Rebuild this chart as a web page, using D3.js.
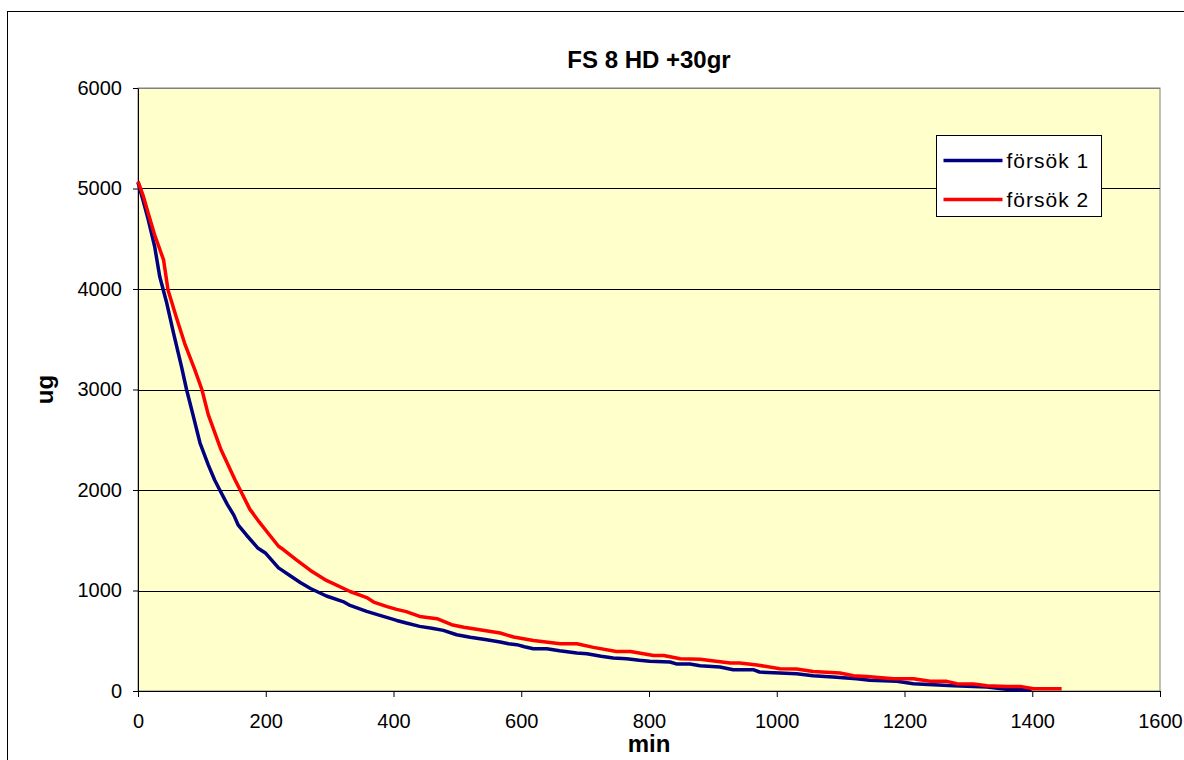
<!DOCTYPE html>
<html>
<head>
<meta charset="utf-8">
<script src="https://cdn.jsdelivr.net/npm/d3@7"></script>
<style>
  body { margin: 0; background: #fff; }
  svg { display: block; font-family: Arial, "Liberation Sans", sans-serif; }
</style>
</head>
<body>
<svg id="chart" width="1184" height="760"></svg>
<script>
// försök 1 (blue)
const minutes1 = [0, 8, 16, 26, 34, 45, 56, 68, 76, 86, 97, 110, 120, 128, 140, 150, 157, 170, 188, 200,
  220, 240, 254, 270, 295, 321, 332, 358, 380, 405, 420, 441, 460, 478, 499, 520, 546, 567, 580, 593,
  605, 619, 640, 660, 687, 703, 725, 744, 765, 785, 801, 833, 844, 864, 880, 911, 932, 963, 973, 1005,
  1031, 1057, 1088, 1125, 1146, 1188, 1214, 1245, 1277, 1329, 1366, 1399];
const values1 = [5060, 4880, 4690, 4425, 4125, 3860, 3550, 3230, 3000, 2750, 2470, 2250, 2100, 2000, 1855, 1750, 1650, 1550, 1420, 1370,
  1225, 1140, 1080, 1020, 945, 890, 851, 792, 750, 702, 676, 643, 625, 603, 560, 535, 510, 488, 470, 461,
  440, 421, 421, 400, 378, 371, 345, 328, 321, 305, 295, 288, 268, 268, 252, 239, 212, 212, 189, 179,
  172, 152, 139, 122, 106, 96, 73, 63, 53, 40, 13, 13];

// försök 2 (red)
const minutes2 = [0, 8, 16, 26, 40, 47, 60, 73, 89, 100, 110, 130, 152, 160, 175, 190, 205, 220, 228, 248,
  270, 295, 332, 358, 369, 390, 405, 420, 441, 468, 491, 510, 535, 567, 588, 619, 661, 687, 713, 749,
  771, 807, 823, 849, 880, 927, 942, 969, 1005, 1031, 1057, 1099, 1120, 1141, 1183, 1214, 1240, 1266,
  1282, 1308, 1329, 1360, 1381, 1402, 1446];
const values2 = [5070, 4930, 4755, 4540, 4290, 3990, 3720, 3460, 3195, 3000, 2750, 2400, 2100, 2000, 1810, 1680, 1560, 1440, 1405, 1305,
  1200, 1100, 990, 930, 885, 840, 812, 790, 742, 720, 660, 635, 610, 577, 537, 503, 470, 470, 434, 394,
  394, 354, 354, 321, 316, 279, 279, 259, 222, 219, 195, 179, 152, 145, 122, 122, 96, 96,
  73, 70, 53, 46, 46, 23, 23];

const seriesNames = ["försök 1", "försök 2"];
const seriesColors = ["#000080", "#ff0000"];
const xTicks = [0, 200, 400, 600, 800, 1000, 1200, 1400, 1600];
const yTicks = [0, 1000, 2000, 3000, 4000, 5000, 6000];

const svg = d3.select("#chart");
const margin = { top: 88, left: 138, right: 24, bottom: 69 };
const width = 1160 - margin.left;
const height = 691 - margin.top;

// chart area border (runs off the page on right/bottom)
svg.append("rect")
  .attr("x", 7.5).attr("y", 11.5)
  .attr("width", 1200).attr("height", 800)
  .attr("fill", "#fff").attr("stroke", "#000");

svg.append("text")
  .attr("x", margin.left + width / 2).attr("y", 68)
  .attr("text-anchor", "middle")
  .attr("font-size", 24).attr("font-weight", "bold")
  .text("FS 8 HD +30gr");

const x = d3.scaleLinear().domain([0, 1600]).range([0, width]);
const y = d3.scaleLinear().domain([0, 6000]).range([height, 0]);

const g = svg.append("g").attr("transform", `translate(${margin.left},${margin.top})`);

g.append("rect")
  .attr("width", width).attr("height", height)
  .attr("fill", "#ffffcc").attr("stroke", "#808080");

// gridlines
g.append("g")
  .selectAll("line")
  .data(yTicks.filter(d => d > 0))
  .join("line")
  .attr("x1", 0).attr("x2", width)
  .attr("y1", d => Math.round(y(d)) + 0.5).attr("y2", d => Math.round(y(d)) + 0.5)
  .attr("stroke", d => d === 6000 ? "#808080" : "#000")
  .attr("stroke-width", 1);

const fmt = d3.format("d");

const yAxis = g.append("g")
  .call(d3.axisLeft(y).tickValues(yTicks).tickFormat(fmt).tickSize(5).tickPadding(11).tickSizeOuter(0));
yAxis.select(".domain").attr("stroke", "#000");
yAxis.selectAll("text").attr("font-size", 20).attr("fill", "#000").attr("font-family", null);

const xAxis = g.append("g")
  .attr("transform", `translate(0,${height})`)
  .call(d3.axisBottom(x).tickValues(xTicks).tickFormat(fmt).tickSize(6).tickPadding(17).tickSizeOuter(0));
xAxis.select(".domain").attr("stroke", "#000");
xAxis.selectAll("text").attr("font-size", 20).attr("fill", "#000").attr("font-family", null);

g.append("text")
  .attr("transform", `translate(${45 - margin.left},${height / 2}) rotate(-90)`)
  .attr("text-anchor", "middle")
  .attr("dy", "0.35em")
  .attr("font-size", 24).attr("font-weight", "bold")
  .text("ug");

g.append("text")
  .attr("x", width / 2).attr("y", height + 61)
  .attr("text-anchor", "middle")
  .attr("font-size", 24).attr("font-weight", "bold")
  .text("min");

const line = d3.line().x(d => x(d[0])).y(d => y(d[1]));
const series = [d3.zip(minutes1, values1), d3.zip(minutes2, values2)];

g.selectAll(".series")
  .data(series)
  .join("path")
  .attr("class", "series")
  .attr("d", line)
  .attr("fill", "none")
  .attr("stroke", (d, i) => seriesColors[i])
  .attr("stroke-width", 3.5)
  .attr("stroke-linejoin", "round");

// legend
const legend = svg.append("g").attr("transform", "translate(936.5,135.5)");
legend.append("rect")
  .attr("width", 165).attr("height", 81)
  .attr("fill", "#fff").attr("stroke", "#000");
seriesNames.forEach((name, i) => {
  const ly = 25 + i * 39;
  legend.append("line")
    .attr("x1", 7).attr("x2", 66)
    .attr("y1", ly).attr("y2", ly)
    .attr("stroke", seriesColors[i]).attr("stroke-width", 3.5);
  legend.append("text")
    .attr("x", 70).attr("y", ly + 7)
    .attr("font-size", 21).attr("letter-spacing", 1)
    .text(name);
});
</script>
</body>
</html>
